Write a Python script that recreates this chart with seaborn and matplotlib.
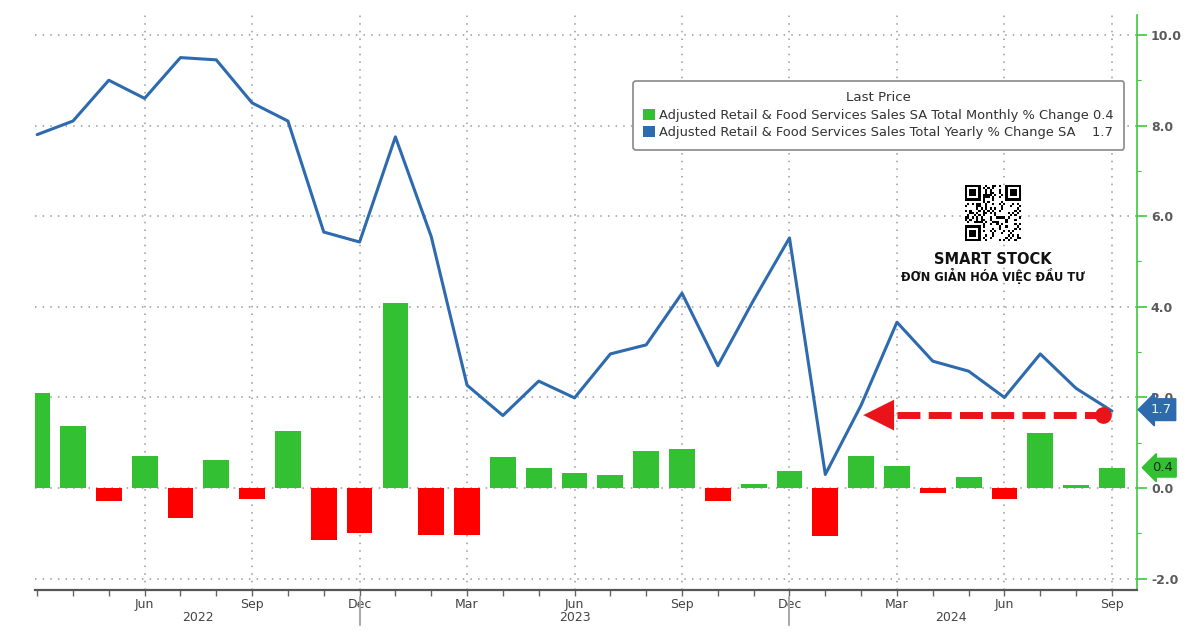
import numpy as np
import pandas as pd
import matplotlib
matplotlib.use("Agg")
import matplotlib.pyplot as plt
from matplotlib.patches import Patch
import seaborn as sns

# ---------------- data ----------------
month_names = ["Mar", "Apr", "May", "Jun", "Jul", "Aug", "Sep", "Oct", "Nov", "Dec",
               "Jan", "Feb", "Mar", "Apr", "May", "Jun", "Jul", "Aug", "Sep", "Oct", "Nov", "Dec",
               "Jan", "Feb", "Mar", "Apr", "May", "Jun", "Jul", "Aug", "Sep"]
years = [2022] * 10 + [2023] * 12 + [2024] * 9
monthly_change = [2.1, 1.38, -0.29, 0.7, -0.65, 0.62, -0.24, 1.26, -1.15, -1.0,
                  4.08, -1.04, -1.04, 0.69, 0.45, 0.33, 0.28, 0.82, 0.86, -0.29, 0.1, 0.38,
                  -1.05, 0.7, 0.48, -0.12, 0.25, -0.24, 1.21, 0.07, 0.44]
yearly_change = [7.8, 8.1, 9.0, 8.6, 9.5, 9.45, 8.5, 8.1, 5.65, 5.43,
                 7.75, 5.55, 2.27, 1.6, 2.36, 1.99, 2.96, 3.16, 4.3, 2.7, 4.15, 5.52,
                 0.3, 1.83, 3.66, 2.8, 2.58, 2.0, 2.96, 2.2, 1.7]
last_monthly = "0.4"
last_yearly = "1.7"
series_labels = ["Adjusted Retail & Food Services Sales SA Total Monthly % Change",
                 "Adjusted Retail & Food Services Sales Total Yearly % Change SA"]
y_ticks = [-2.0, 0.0, 2.0, 4.0, 6.0, 8.0, 10.0]

GREEN = "#33c133"
RED = "#ff0000"
BLUE = "#2d6aae"
ARROW_RED = "#e8141a"

df = pd.DataFrame({
    "idx": np.arange(len(monthly_change)),
    "monthly": monthly_change,
    "yearly": yearly_change,
})
df["sign"] = np.where(df["monthly"] >= 0, "pos", "neg")

sns.set_theme(style="white")
plt.rcParams["font.family"] = ["DejaVu Sans"]

fig = plt.figure(figsize=(12, 6.4), dpi=100)
ax = fig.add_axes([35 / 1200, 1 - 590 / 640, (1137 - 35) / 1200, (590 - 15) / 640])

sns.barplot(data=df, x="idx", y="monthly", hue="sign",
            palette={"pos": GREEN, "neg": RED}, dodge=False, native_scale=True,
            width=0.72, legend=False, ax=ax, edgecolor="none", saturation=1, zorder=2)
sns.lineplot(data=df, x="idx", y="yearly", color=BLUE, lw=2.2, ax=ax, zorder=3)

ax.set_xlim(-0.06, 30.7)
ax.set_ylim(-2.25, 10.44)
ax.set_xlabel("")
ax.set_ylabel("")

# y axis on right
ax.yaxis.tick_right()
ax.set_yticks(y_ticks)
ax.set_yticklabels([f"{v:.1f}" for v in y_ticks])
ax.set_yticks(np.arange(-1, 11, 2), minor=True)
ax.tick_params(axis="y", which="major", direction="out", length=7, width=1.2,
               color="#3cc83c", labelcolor="#5a5a5a", labelsize=9, pad=3, right=True, left=False)
ax.tick_params(axis="y", which="minor", direction="out", length=3, width=0.8,
               color="#3cc83c", right=True, left=False)
for lbl in ax.get_yticklabels():
    lbl.set_fontweight("bold")

# x axis
quarter_idx = [i for i, m in enumerate(month_names) if m in ("Mar", "Jun", "Sep", "Dec") and i > 0]
ax.set_xticks(quarter_idx)
ax.set_xticklabels([month_names[i] for i in quarter_idx])
ax.set_xticks(np.arange(len(month_names)), minor=True)
ax.tick_params(axis="x", which="major", direction="out", length=4, width=1,
               color="#666666", labelcolor="#444444", labelsize=9, pad=2, bottom=True)
ax.tick_params(axis="x", which="minor", direction="out", length=4, width=1,
               color="#666666", bottom=True)

# grid
ax.grid(True, which="major", axis="both", color="#9a9a9a", linestyle=(0, (1, 4)), lw=1.1)
ax.set_axisbelow(True)

for s in ("top", "left"):
    ax.spines[s].set_visible(False)
ax.spines["right"].set_color("#3cc83c")
ax.spines["right"].set_linewidth(1.2)
ax.spines["bottom"].set_color("#555555")
ax.spines["bottom"].set_linewidth(1.6)

# year labels and separators
xform = ax.get_xaxis_transform()
year_vals = sorted(set(years))
bounds = []
for yv in year_vals:
    ids = [i for i, y in enumerate(years) if y == yv]
    bounds.append((ids[0], ids[-1]))
for k, yv in enumerate(year_vals):
    lo = 0 if k == 0 else bounds[k - 1][1]
    hi = bounds[k][1]
    ax.text((lo + hi) / 2, -0.048, str(yv), transform=xform, ha="center", va="center",
            fontsize=9, color="#444444")
    if k < len(year_vals) - 1:
        ax.plot([bounds[k][1]] * 2, [-0.012, -0.06], transform=xform, color="#aaaaaa",
                lw=1.5, clip_on=False)

# last value tags on right axis
ytf = ax.get_yaxis_transform()
ax.text(1.012, float(last_yearly) + 0.03, last_yearly, transform=ytf, ha="left", va="center",
        fontsize=9.5, color="#e8eef8", zorder=10, clip_on=False,
        bbox=dict(boxstyle="larrow,pad=0.33", fc=BLUE, ec=BLUE))
ax.text(1.014, float(last_monthly) + 0.05, last_monthly, transform=ytf, ha="left", va="center",
        fontsize=9.5, color="#1a2a1a", zorder=10, clip_on=False,
        bbox=dict(boxstyle="larrow,pad=0.22", fc=GREEN, ec=GREEN))

# red dashed arrow annotation
arrow_y = 1.61
ax.plot([24.0, 29.75], [arrow_y, arrow_y], color=ARROW_RED, lw=5, dashes=(3.3, 1.2), zorder=6,
        dash_capstyle="butt")
ax.plot([29.75], [arrow_y], marker="o", ms=11, color=ARROW_RED, zorder=7)
ax.annotate("", xy=(23.06, arrow_y), xytext=(24.1, arrow_y),
            arrowprops=dict(arrowstyle="-|>,head_length=1.1,head_width=0.55",
                            color=ARROW_RED, lw=0.1, mutation_scale=20, shrinkA=0, shrinkB=0),
            zorder=7)

# legend
handles = [Patch(facecolor=GREEN, edgecolor="none"), Patch(facecolor=BLUE, edgecolor="none")]
labels = [f"{series_labels[0]} {last_monthly}", f"{series_labels[1]}    {last_yearly}"]
leg = fig.legend(handles, labels, title="Last Price", loc="upper left",
                 bbox_to_anchor=(633 / 1200, 1 - 81 / 640), fontsize=9.4, title_fontsize=9.6,
                 frameon=True, fancybox=True, edgecolor="#888888", framealpha=1,
                 handlelength=0.9, handleheight=0.9, handletextpad=0.3, borderpad=0.8,
                 labelspacing=0.33, borderaxespad=0)
leg.get_title().set_color("#333333")
for t in leg.get_texts():
    t.set_color("#333333")
leg.get_frame().set_linewidth(1.2)

# watermark: QR-like block and brand text
n = 25
qr = np.zeros((n, n), dtype=int)
seed_bits = np.unpackbits(np.frombuffer(("SMART STOCK DON GIAN HOA VIEC DAU TU " * 3).encode(), dtype=np.uint8))
qr.flat[:] = seed_bits[: n * n]
def finder(r, c):
    qr[r:r + 7, c:c + 7] = 1
    qr[r + 1:r + 6, c + 1:c + 6] = 0
    qr[r + 2:r + 5, c + 2:c + 5] = 1
for r, c in [(0, 0), (0, n - 7), (n - 7, 0)]:
    qr[max(r - 1, 0):r + 8, max(c - 1, 0):c + 8] = 0
    finder(r, c)
qax = fig.add_axes([965 / 1200, 1 - 241 / 640, 56 / 1200, 56 / 640])
qax.imshow(qr, cmap="Greys", interpolation="nearest")
qax.axis("off")

fig.text(993 / 1200, 1 - 260 / 640, "SMART STOCK", ha="center", va="center",
         fontsize=10.5, fontweight="bold", color="#111111")
fig.text(993 / 1200, 1 - 276 / 640, "ĐƠN GIẢN HÓA VIỆC ĐẦU TƯ", ha="center", va="center",
         fontsize=8.3, fontweight="bold", color="#111111")

fig.savefig("out.png", dpi=100, facecolor="white")
